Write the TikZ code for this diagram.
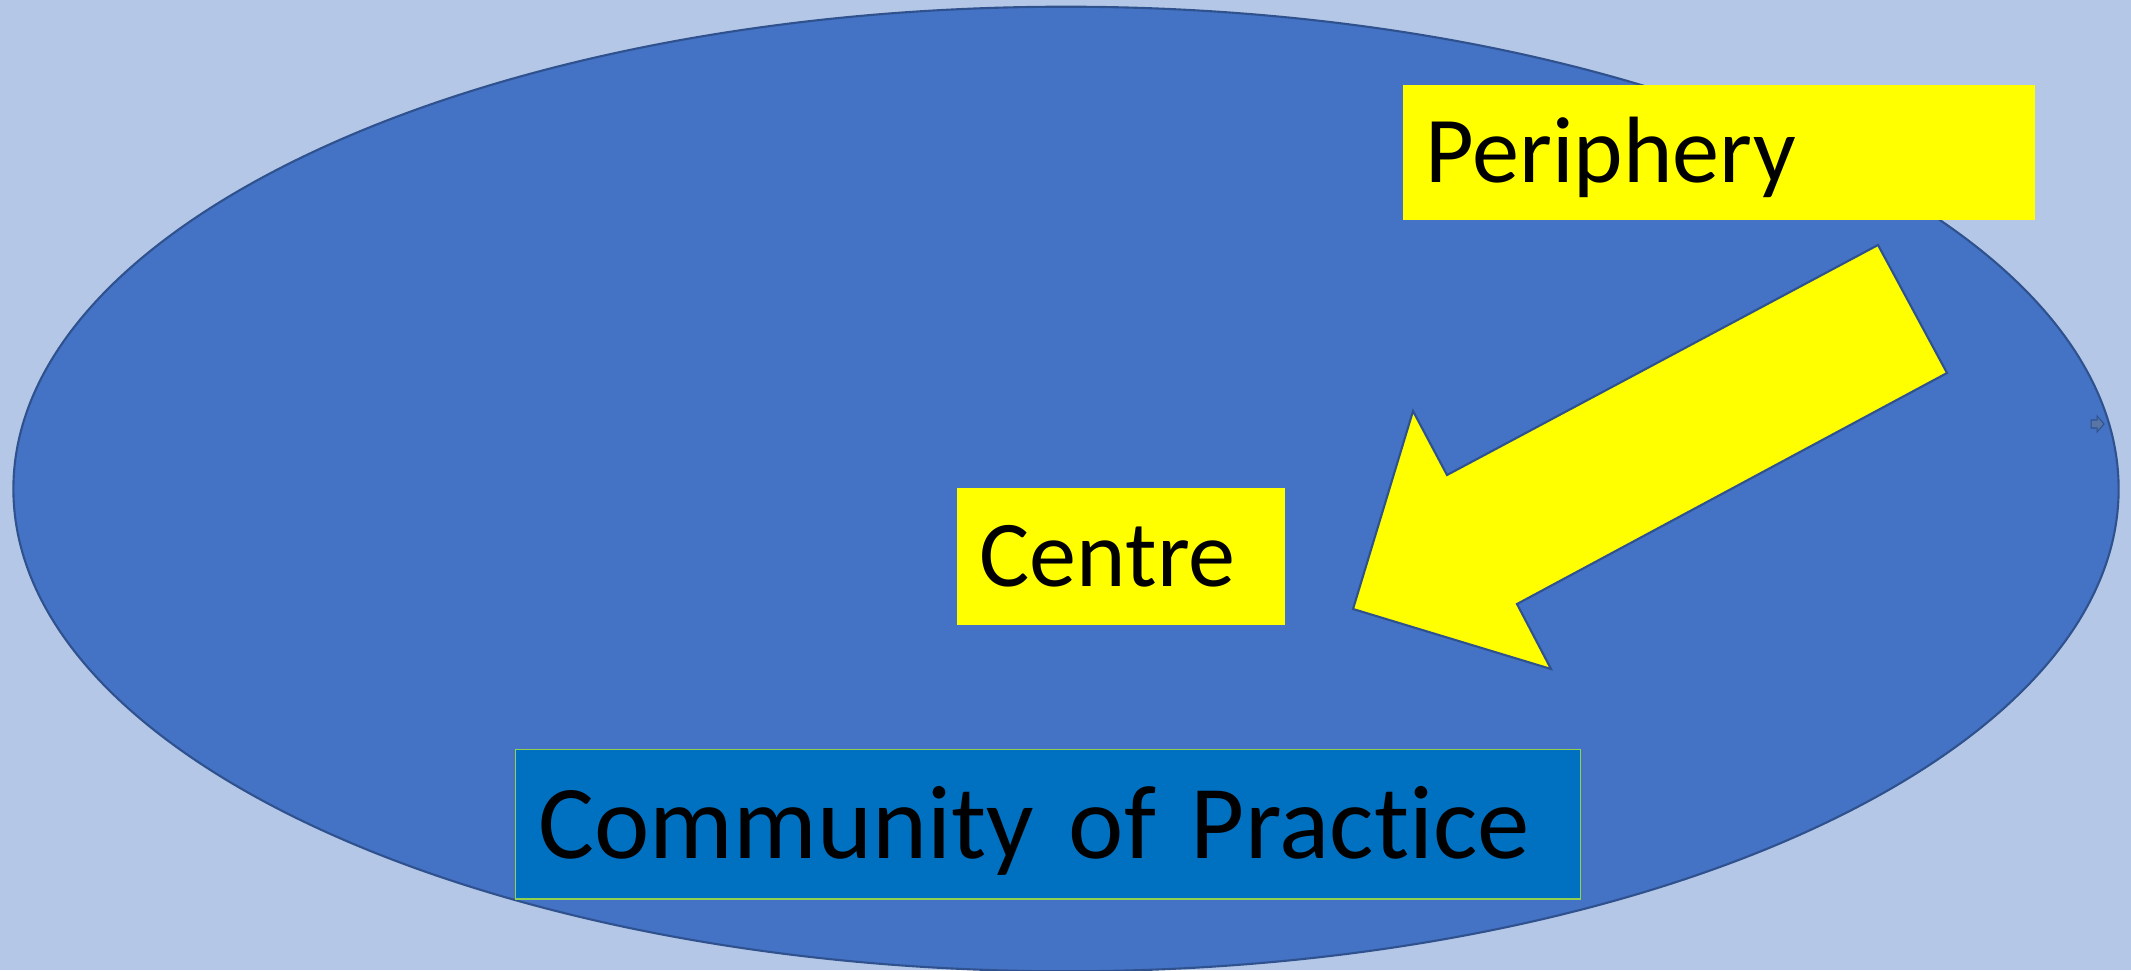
\documentclass[tikz,border=0pt]{standalone}
\usepackage{fontspec}
\setmainfont{Carlito}[Ligatures=NoCommon]
\newfontfamily\practicefont{Carlito}[Ligatures=NoCommon, WordSpace=0.5]
\usetikzlibrary{positioning}
\definecolor{cpsky}{HTML}{B4C7E7}
\definecolor{cpblue}{HTML}{4472C4}
\definecolor{cpedge}{HTML}{2F528F}
\definecolor{cpyellow}{HTML}{FFFF00}
\definecolor{cpdeep}{HTML}{0070C0}
\definecolor{cplime}{HTML}{92D050}
\tikzset{
  yellowBox/.style={fill=cpyellow, anchor=north west, inner xsep=0.23cm, inner ysep=0pt, align=left, text height=0.6cm, text depth=0pt, font=\fontsize{26.8}{30}\selectfont},
  practiceBox/.style={fill=cpdeep, draw=cplime, line width=0.4pt, anchor=north west, inner xsep=0.23cm, inner ysep=0pt, align=left, text height=0.68cm, text depth=0pt, font=\fontsize{29.8}{34}\selectfont\practicefont},
  blockArrow/.style={fill=cpyellow, draw=cpedge, line width=0.6pt, line join=miter}
}
\begin{document}
\begin{tikzpicture}[x=0.01cm,y=-0.01cm]
  \fill[cpsky] (0,0) rectangle (2131,970);
  \useasboundingbox (0,0) rectangle (2131,970);
  % community ellipse
  \draw[fill=cpblue, draw=cpedge, line width=0.6pt] (1066,489) ellipse [x radius=10.52cm, y radius=4.82cm];
  \node[yellowBox, minimum width=6.32cm, text width=5.86cm, minimum height=1.35cm] (periphery) at (1402,84) {Periphery};
  \node[yellowBox, minimum width=3.28cm, text width=2.82cm, minimum height=1.37cm] (centre) at (956,487) {Centre};
  \node[practiceBox, minimum width=10.64cm, text width=10.18cm, minimum height=1.49cm] (practice) at (515,749) {Community of Practice};
  % inward arrow
  \draw[blockArrow] (1878,245) -- (1947,373) -- (1517,604) -- (1551,669) -- (1353,609)
    -- (1413,411) -- (1447,475) -- cycle;
  % small mark on the rim
  \draw[fill=cpedge!80, draw=cpedge, line width=0.3pt] (2091,420) -- (2097,420) -- (2097,416) -- (2104,424)
    -- (2097,432) -- (2097,428) -- (2091,428) -- cycle;
\end{tikzpicture}
\end{document}
